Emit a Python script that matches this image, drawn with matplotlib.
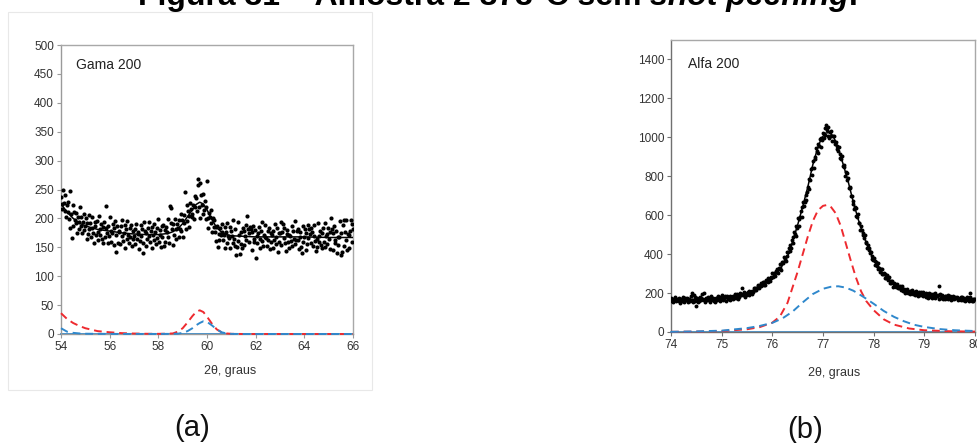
import numpy as np
import matplotlib
matplotlib.use("Agg")
import matplotlib.pyplot as plt
from matplotlib.patches import Rectangle

plt.rcParams['font.family'] = ['Liberation Sans', 'DejaVu Sans']

# ---------------- (a) Gama 200 ----------------
scan_a_start, scan_a_step = 54.0, 0.03
counts_a = [
    237, 216, 225, 249, 227, 240, 213, 202, 223, 211, 228, 199, 184, 248, 207, 166, 223, 187, 211, 197,
    192, 210, 175, 203, 194, 182, 220, 186, 203, 174, 194, 208, 180, 187, 201, 164, 192, 173, 206, 182,
    192, 168, 183, 202, 175, 158, 194, 186, 171, 196, 177, 162, 204, 171, 181, 190, 165, 185, 158, 193,
    167, 184, 221, 174, 157, 187, 170, 202, 160, 179, 175, 190, 154, 184, 195, 142, 171, 187, 158, 176,
    179, 156, 186, 169, 198, 161, 174, 189, 148, 181, 165, 195, 172, 158, 183, 168, 189, 152, 179, 165,
    169, 182, 156, 191, 165, 173, 177, 147, 161, 188, 170, 181, 158, 140, 194, 179, 153, 175, 164, 184,
    170, 193, 159, 178, 149, 185, 171, 163, 190, 176, 155, 183, 166, 199, 160, 172, 180, 151, 186, 167,
    188, 153, 180, 160, 185, 176, 167, 199, 157, 222, 192, 218, 182, 191, 154, 172, 199, 181, 165, 190,
    184, 167, 197, 182, 178, 207, 197, 168, 206, 192, 245, 181, 224, 196, 213, 185, 204, 226, 217, 202,
    208, 224, 199, 238, 219, 236, 212, 268, 258, 219, 261, 200, 240, 223, 208, 242, 215, 230, 199, 220,
    264, 200, 183, 210, 203, 192, 215, 177, 200, 185, 198, 176, 185, 161, 186, 150, 173, 162, 184, 172,
    177, 191, 163, 171, 185, 149, 177, 158, 192, 169, 166, 185, 149, 178, 170, 158, 197, 164, 181, 153,
    137, 151, 193, 161, 171, 138, 155, 176, 149, 184, 178, 154, 170, 189, 162, 204, 182, 174, 159, 185,
    182, 146, 176, 187, 159, 164, 180, 132, 169, 157, 174, 185, 165, 148, 178, 161, 193, 152, 171, 167,
    189, 166, 153, 178, 163, 184, 147, 174, 160, 172, 149, 179, 162, 191, 155, 168, 183, 142, 175, 159,
    175, 194, 154, 177, 190, 166, 184, 157, 143, 173, 180, 160, 171, 149, 169, 161, 187, 152, 178, 165,
    156, 195, 162, 179, 163, 182, 147, 176, 168, 151, 140, 186, 159, 167, 181, 145, 174, 155, 189, 166,
    181, 173, 158, 184, 177, 153, 169, 188, 161, 144, 165, 150, 192, 160, 170, 179, 154, 175, 148, 183,
    160, 192, 151, 170, 156, 173, 184, 164, 147, 177, 200, 181, 145, 175, 186, 158, 163, 179, 140, 168,
    154, 167, 195, 137, 174, 142, 188, 198, 152, 177, 162, 197, 146, 173, 171, 148, 178, 198, 190, 159,
    182,
]

fit_x_a = [54.0, 54.25, 54.5, 54.75, 55.0, 55.5, 56.0, 56.5, 57.0, 57.5, 58.0, 58.4, 58.6,
           58.8, 59.0, 59.2, 59.4, 59.55, 59.7, 59.85, 60.0, 60.2, 60.4, 60.6, 60.8, 61.0,
           61.5, 62.0, 63.0, 64.0, 65.0, 66.0]
fit_total_a = [225, 211, 200, 192, 187, 181, 178, 175, 173, 172, 172, 174, 177,
               182, 191, 203, 215, 224, 228, 225, 215, 198, 184, 176, 172, 170,
               169, 168, 168, 168, 167, 167]
fit_red_a = [36, 26, 19, 14, 10, 5, 3, 1.5, 0.8, 0.4, 0.3, 0.6, 1.0,
             4, 10, 20, 31, 38, 41, 38, 30, 18, 8, 3, 1, 0.3,
             0, 0, 0, 0, 0, 0]
fit_blue_a = [10, 4, 2, 1, 0.5, 0.3, 0.2, 0.1, 0.1, 0.1, 0.1, 0.2, 0.3,
              0.5, 2, 5, 10, 15, 19, 22, 21, 15, 8, 3, 1, 0.2,
              0, 0, 0, 0, 0, 0]

# ---------------- (b) Alfa 200 ----------------
scan_b_start, scan_b_step = 74.0, 0.015
counts_b = [
    174, 160, 168, 154, 171, 180, 163, 157, 172, 165, 176, 159, 151, 169, 167, 161, 178, 156, 173, 164,
    164, 176, 154, 172, 167, 159, 184, 163, 198, 156, 192, 179, 161, 136, 175, 152, 171, 159, 180, 166,
    174, 196, 169, 199, 164, 153, 176, 171, 162, 178, 166, 156, 183, 163, 169, 175, 159, 172, 155, 177,
    164, 175, 183, 170, 159, 179, 169, 189, 163, 176, 173, 183, 161, 180, 187, 170, 173, 184, 166, 178,
    181, 167, 187, 176, 196, 174, 183, 194, 168, 191, 181, 202, 188, 228, 197, 189, 203, 180, 199, 191,
    193, 204, 189, 213, 198, 206, 211, 195, 206, 225, 217, 227, 215, 224, 244, 238, 224, 241, 236, 254,
    240, 257, 240, 255, 239, 266, 260, 258, 279, 274, 263, 284, 277, 301, 280, 292, 302, 288, 315, 307,
    324, 305, 327, 350, 330, 321, 362, 362, 355, 386, 375, 366, 412, 392, 412, 430, 416, 446, 430, 474,
    456, 490, 516, 502, 492, 542, 535, 587, 547, 583, 589, 622, 590, 642, 669, 647, 667, 703, 679, 717,
    746, 733, 788, 783, 838, 809, 842, 878, 840, 899, 891, 945, 928, 922, 965, 957, 992, 952, 996, 986,
    1023, 996, 1050, 1014, 1063, 1037, 1007, 1054, 997, 1027, 1005, 1033, 982, 1007, 979, 1007, 968, 977, 938, 956,
    929, 952, 895, 916, 890, 903, 852, 849, 856, 799, 821, 815, 779, 792, 739, 744, 741, 699, 701, 657,
    675, 631, 641, 639, 598, 593, 604, 560, 561, 524, 543, 522, 496, 509, 484, 497, 459, 461, 432, 445,
    421, 434, 408, 411, 377, 388, 368, 379, 363, 345, 358, 340, 354, 324, 331, 309, 323, 322, 300, 299,
    301, 279, 296, 279, 292, 268, 273, 283, 253, 263, 253, 262, 233, 251, 236, 249, 229, 238, 245, 225,
    225, 236, 214, 226, 235, 213, 217, 223, 201, 217, 208, 222, 201, 207, 213, 196, 209, 214, 196, 203,
    208, 191, 203, 211, 193, 185, 203, 197, 189, 205, 192, 184, 206, 188, 194, 199, 179, 195, 177, 198,
    182, 192, 197, 185, 174, 193, 182, 199, 176, 186, 183, 192, 170, 236, 193, 177, 179, 188, 171, 181,
    183, 168, 185, 175, 191, 171, 178, 186, 163, 181, 171, 187, 175, 167, 180, 173, 182, 162, 177, 169,
    170, 179, 162, 182, 166, 171, 173, 158, 163, 178, 168, 173, 160, 198, 180, 171, 157, 169, 161, 172,
    168,
]

fit_x_b = [74.0, 74.5, 75.0, 75.25, 75.5, 75.75, 76.0, 76.15, 76.3, 76.4, 76.5, 76.6, 76.7,
           76.8, 76.9, 76.97, 77.05, 77.12, 77.2, 77.3, 77.4, 77.5, 77.6, 77.7, 77.8, 77.9,
           78.0, 78.2, 78.4, 78.7, 79.0, 79.5, 80.0]
fit_total_b = [166, 168, 174, 180, 195, 225, 275, 320, 388, 465, 550, 645, 745,
               860, 950, 995, 1022, 1024, 1008, 945, 860, 770, 665, 575, 495, 430,
               370, 295, 243, 208, 190, 175, 166]

red_x_b = [74.0, 74.5, 75.0, 75.5, 75.75, 76.0, 76.15, 76.3, 76.4, 76.5, 76.6, 76.7, 76.8,
           76.9, 77.0, 77.07, 77.15, 77.25, 77.35, 77.45, 77.55, 77.65, 77.75, 77.85, 78.0,
           78.2, 78.4, 78.7, 79.0, 79.5, 80.0]
red_b = [1, 2, 5, 14, 25, 48, 80, 150, 230, 310, 400, 490, 570,
         625, 648, 652, 645, 610, 545, 455, 365, 280, 210, 160, 112,
         65, 38, 18, 9, 4, 2]

blue_x_b = [74.0, 74.5, 75.0, 75.5, 75.75, 76.0, 76.2, 76.4, 76.6, 76.8, 77.0, 77.15, 77.3,
            77.45, 77.6, 77.8, 78.0, 78.2, 78.4, 78.6, 78.8, 79.0, 79.3, 79.6, 80.0]
blue_b = [1, 3, 7, 20, 31, 47, 70, 105, 152, 195, 222, 232, 235,
          228, 212, 180, 145, 108, 78, 55, 37, 26, 15, 9, 5]

RED = '#ee2a2f'
BLUE = '#2f88cc'
TICK_COLOR = '#333333'


def style_axes(ax, spine_dark, spine_light):
    ax.spines['left'].set_color(spine_dark)
    ax.spines['bottom'].set_color(spine_dark)
    ax.spines['top'].set_color(spine_light)
    ax.spines['right'].set_color(spine_light)
    for s in ax.spines.values():
        s.set_linewidth(1.0)
    ax.tick_params(direction='out', length=3, width=0.8, color=spine_dark,
                   labelsize=8.5, labelcolor=TICK_COLOR, pad=2)


fig = plt.figure(figsize=(9.78, 4.43), dpi=100)
W, H = 978.0, 443.0

# light frame around the left panel
fig.patches.append(Rectangle((8 / W, 1 - 390 / H), 364 / W, 378 / H,
                             transform=fig.transFigure, fill=False,
                             edgecolor='#e8e8e8', linewidth=0.8))

# ---- panel (a)
ax_a = fig.add_axes([61 / W, 1 - 334 / H, 292 / W, 289 / H])
x_a = scan_a_start + scan_a_step * np.arange(len(counts_a))
ax_a.scatter(x_a, counts_a, s=9, color='black', linewidths=0, zorder=3)
ax_a.plot(fit_x_a, fit_total_a, color='black', lw=1.1, zorder=4)
ax_a.plot(fit_x_a, [0] * len(fit_x_a), color=BLUE, lw=1.3, zorder=2, clip_on=False)
ax_a.plot(fit_x_a, fit_red_a, color=RED, lw=1.4, dashes=(4, 2.5), zorder=3, clip_on=False)
ax_a.plot(fit_x_a, fit_blue_a, color=BLUE, lw=1.4, dashes=(4, 2.5), zorder=3, clip_on=False)
ax_a.set_xlim(54, 66)
ax_a.set_ylim(0, 500)
ax_a.set_xticks(np.arange(54, 67, 2))
ax_a.set_yticks(np.arange(0, 501, 50))
style_axes(ax_a, '#9a9a9a', '#a8a8a8')
ax_a.text(0.051, 0.931, 'Gama 200', transform=ax_a.transAxes, fontsize=10,
          color='#222222', ha='left', va='center')
ax_a.text(0.579, -0.128, '2θ, graus', transform=ax_a.transAxes, fontsize=9,
          color=TICK_COLOR, ha='center', va='center')

# ---- panel (b)
ax_b = fig.add_axes([671 / W, 1 - 332 / H, 304 / W, 292 / H])
x_b = scan_b_start + scan_b_step * np.arange(len(counts_b))
ax_b.scatter(x_b, counts_b, s=8, color='black', linewidths=0, zorder=3)
ax_b.plot(fit_x_b, fit_total_b, color='black', lw=1.1, zorder=4)
ax_b.plot(fit_x_b, [0] * len(fit_x_b), color=BLUE, lw=1.2, zorder=2, clip_on=False)
ax_b.plot(red_x_b, red_b, color=RED, lw=1.4, dashes=(4, 2.5), zorder=3, clip_on=False)
ax_b.plot(blue_x_b, blue_b, color=BLUE, lw=1.4, dashes=(4, 2.5), zorder=3, clip_on=False)
ax_b.set_xlim(74, 80)
ax_b.set_ylim(0, 1500)
ax_b.set_xticks(np.arange(74, 81, 1))
ax_b.set_yticks(np.arange(0, 1401, 200))
style_axes(ax_b, '#707070', '#a8a8a8')
ax_b.text(0.056, 0.918, 'Alfa 200', transform=ax_b.transAxes, fontsize=10,
          color='#222222', ha='left', va='center')
ax_b.text(0.536, -0.140, '2θ, graus', transform=ax_b.transAxes, fontsize=9,
          color=TICK_COLOR, ha='center', va='center')

# ---- panel letters
fig.text(192 / W, 1 - 428 / H, '(a)', fontsize=21, ha='center', va='center', color='#111111')
fig.text(805 / W, 1 - 430 / H, '(b)', fontsize=21, ha='center', va='center', color='#111111')

# ---- caption (upper part runs off the top edge)
base_y = 1 - 5 / H
cap_size = 23
t1 = fig.text(138 / W, base_y, 'Figura 31 – Amostra 2 873°C sem', fontsize=cap_size,
              fontweight='bold', ha='left', va='baseline')
fig.canvas.draw()
space_px = 0.278 * cap_size * fig.dpi / 72
x_next = (t1.get_window_extent().x1 + space_px) / W
t2 = fig.text(x_next, base_y, 'shot peening', fontsize=cap_size, fontweight='bold',
              fontstyle='italic', ha='left', va='baseline')
fig.canvas.draw()
x_next = t2.get_window_extent().x1 / W
fig.text(x_next, base_y, '.', fontsize=cap_size, fontweight='bold', ha='left', va='baseline')

fig.savefig('out.png', dpi=100)
